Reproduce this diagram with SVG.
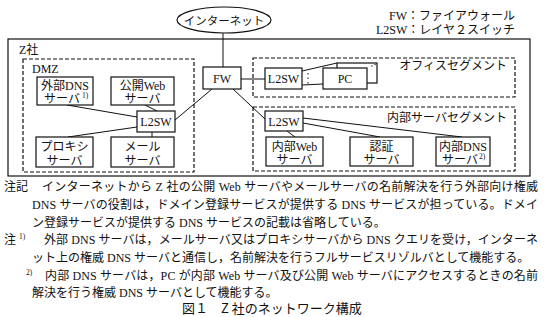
<svg xmlns="http://www.w3.org/2000/svg" width="546" height="317" viewBox="0 0 546 317">
<style>
.t{font-family:"Liberation Serif","Noto Sans CJK JP",serif;font-size:12px;fill:#111}
.m{text-anchor:middle}
.e{text-anchor:end}
.sup{font-size:7.5px}
.box{fill:#fff;stroke:#111;stroke-width:1.2}
.frame{fill:none;stroke:#111;stroke-width:1.2}
.dash{fill:none;stroke:#111;stroke-width:1.2;stroke-dasharray:4 2}
.ln{stroke:#111;stroke-width:1;fill:none}
.cap{font-family:"Noto Sans CJK JP",sans-serif;font-size:13px;fill:#111}
</style>
<rect width="546" height="317" fill="#fff"/>

<g id="legend">
<text class="t e" x="515" y="20">FW：ファイアウォール</text>
<text class="t e" x="515" y="33.5">L2SW：レイヤ２スイッチ</text>
</g>

<g id="z-company">
<rect class="frame" x="8" y="39" width="522" height="137"/>
<text class="t" x="19" y="54">Z社</text>
</g>
<g id="dmz-segment">
<rect class="dash" x="23" y="59" width="171" height="113"/>
<text class="t" x="32" y="73">DMZ</text>
</g>
<g id="office-segment">
<rect class="dash" x="253" y="58" width="262" height="39"/>
<text class="t e" x="507" y="69.5">オフィスセグメント</text>
</g>
<g id="internal-segment">
<rect class="dash" x="253" y="107" width="262" height="64"/>
<text class="t e" x="507" y="121.5">内部サーバセグメント</text>
</g>

<g id="connectors">
<line class="ln" x1="223" y1="33" x2="223" y2="67"/>
<line class="ln" x1="241" y1="79" x2="265" y2="79"/>
<line class="ln" x1="212" y1="89" x2="175" y2="120"/>
<line class="ln" x1="233" y1="89" x2="265" y2="119"/>
<line class="ln" x1="67" y1="105" x2="137" y2="117"/>
<line class="ln" x1="145" y1="105" x2="157" y2="111"/>
<line class="ln" x1="68" y1="137" x2="137" y2="127"/>
<line class="ln" x1="152" y1="131" x2="152" y2="137"/>
<line class="ln" x1="287" y1="131" x2="295" y2="137"/>
<line class="ln" x1="303" y1="123" x2="380" y2="137"/>
<line class="ln" x1="303" y1="118" x2="462" y2="137"/>
<line class="ln" x1="302" y1="71" x2="337" y2="63"/>
<line class="ln" x1="302" y1="85" x2="323" y2="84"/>
<line class="ln" x1="308" y1="73" x2="308" y2="84" stroke-dasharray="1.5 3"/>
</g>

<g id="internet">
<ellipse cx="224" cy="20" rx="47" ry="13" class="box"/>
<text class="t m" x="224" y="24.5" style="font-size:11.5px">インターネット</text>
</g>
<g id="fw">
<rect class="box" x="203" y="67" width="38" height="22"/>
<text class="t m" x="222" y="82.5">FW</text>
</g>
<g id="office-l2sw">
<rect class="box" x="265" y="68" width="37" height="21"/>
<text class="t m" x="283.5" y="82.5">L2SW</text>
</g>
<g id="pc">
<rect class="box" x="337" y="63" width="40" height="20"/>
<circle cx="372" cy="66" r="0.7" fill="#111"/>
<circle cx="375" cy="64.5" r="0.7" fill="#111"/>
<rect class="box" x="323" y="68" width="44" height="21"/>
<text class="t m" x="345" y="83">PC</text>
</g>
<g id="dmz-l2sw">
<rect class="box" x="137" y="111" width="38" height="21"/>
<text class="t m" x="156" y="125.5">L2SW</text>
</g>
<g id="ext-dns">
<rect class="box" x="37" y="77" width="56" height="28"/>
<text class="t m" x="65" y="89.5">外部DNS</text>
<text class="t" x="44" y="103">サーバ</text>
<text class="t sup" x="82" y="98">1)</text>
</g>
<g id="public-web">
<rect class="box" x="111" y="77" width="63" height="28"/>
<text class="t m" x="142.5" y="89.5">公開Web</text>
<text class="t m" x="142.5" y="103">サーバ</text>
</g>
<g id="proxy">
<rect class="box" x="36" y="137" width="57" height="30"/>
<text class="t m" x="64.5" y="150.5">プロキシ</text>
<text class="t m" x="64.5" y="164.5">サーバ</text>
</g>
<g id="mail">
<rect class="box" x="111" y="137" width="63" height="30"/>
<text class="t m" x="142.5" y="150.5">メール</text>
<text class="t m" x="142.5" y="164.5">サーバ</text>
</g>
<g id="internal-l2sw">
<rect class="box" x="265" y="111" width="38" height="20"/>
<text class="t m" x="284" y="125.5">L2SW</text>
</g>
<g id="internal-web">
<rect class="box" x="266" y="137" width="57" height="29"/>
<text class="t m" x="294.5" y="150.5">内部Web</text>
<text class="t m" x="294.5" y="164">サーバ</text>
</g>
<g id="auth">
<rect class="box" x="350" y="137" width="63" height="29"/>
<text class="t m" x="381.5" y="150.5">認証</text>
<text class="t m" x="381.5" y="164">サーバ</text>
</g>
<g id="internal-dns">
<rect class="box" x="436" y="137" width="54" height="29"/>
<text class="t m" x="463" y="150.5">内部DNS</text>
<text class="t" x="442" y="164">サーバ</text>
<text class="t sup" x="479" y="159">2)</text>
</g>

<g id="notes">
<text class="t" x="4" y="191">注記</text>
<text class="t" x="42" y="191" textLength="496" lengthAdjust="spacing">インターネットから Z 社の公開 Web サーバやメールサーバの名前解決を行う外部向け権威</text>
<text class="t" x="32" y="209" textLength="506" lengthAdjust="spacing">DNS サーバの役割は，ドメイン登録サービスが提供する DNS サービスが担っている。ドメイ</text>
<text class="t" x="32" y="226.5">ン登録サービスが提供する DNS サービスの記載は省略している。</text>
<text class="t" x="4" y="244">注</text>
<text class="t sup" x="19" y="239">1)</text>
<text class="t" x="44" y="244" textLength="494" lengthAdjust="spacing">外部 DNS サーバは，メールサーバ又はプロキシサーバから DNS クエリを受け，インターネ</text>
<text class="t" x="32" y="262">ット上の権威 DNS サーバと通信し，名前解決を行うフルサービスリゾルバとして機能する。</text>
<text class="t sup" x="26" y="274.5">2)</text>
<text class="t" x="45" y="279.5" textLength="493" lengthAdjust="spacing">内部 DNS サーバは，PC が内部 Web サーバ及び公開 Web サーバにアクセスするときの名前</text>
<text class="t" x="32" y="297">解決を行う権威 DNS サーバとして機能する。</text>
<text class="cap" x="182" y="313">図１　Z 社のネットワーク構成</text>
</g>
</svg>
